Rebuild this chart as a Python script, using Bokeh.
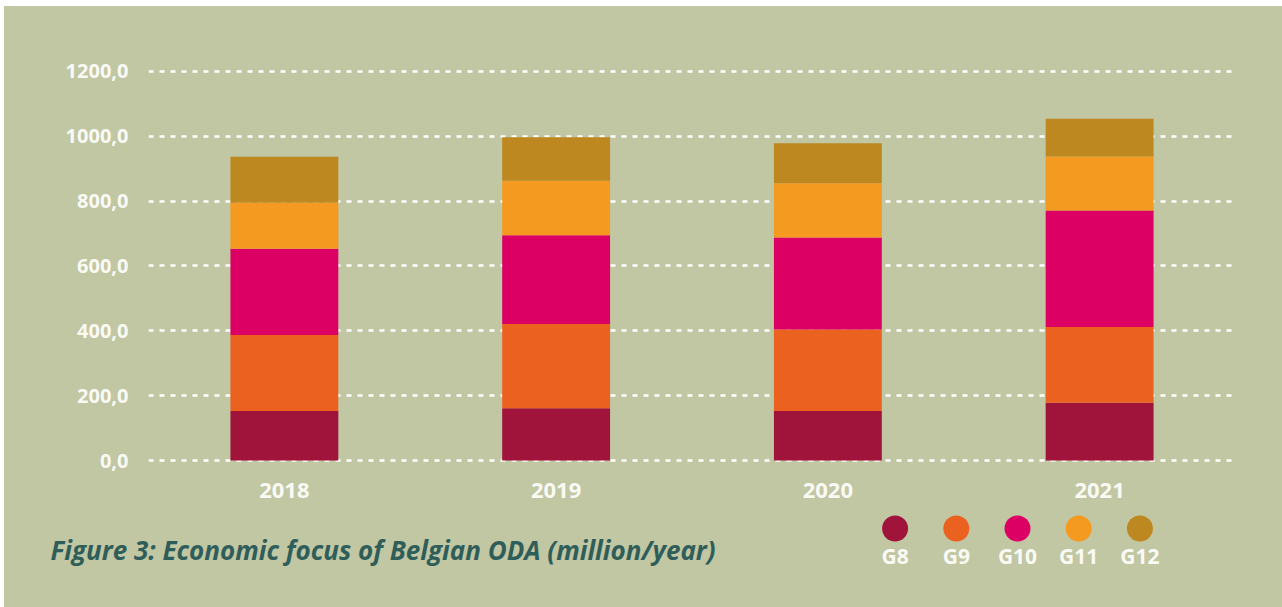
from bokeh.plotting import figure
from bokeh.models import FactorRange, Range1d, FixedTicker, Spacer, ColumnDataSource
from bokeh.layouts import column, row
from bokeh.core.properties import value
from bokeh.embed import file_html
from bokeh.resources import INLINE

# ---- data ----
years = ["2018", "2019", "2020", "2021"]
groups = ["G8", "G9", "G10", "G11", "G12"]
g8 = [153, 161, 153, 178]
g9 = [234, 260, 251, 234]
g10 = [266, 274, 284, 359]
g11 = [142, 168, 167, 167]
g12 = [142, 134, 124, 116]
y_ticks = [0, 200, 400, 600, 800, 1000, 1200]
y_tick_labels = ["0,0", "200,0", "400,0", "600,0", "800,0", "1000,0", "1200,0"]
caption = "Figure 3: Economic focus of Belgian ODA (million/year)"

# ---- styles ----
BG = "#c1c6a3"
colors = ["#a0143c", "#eb6220", "#dc0064", "#f59a20", "#bd8820"]
TXT = "#fafaf5"
TITLE_C = "#2f5e5a"
FONT = "Open Sans"

src = ColumnDataSource(dict(year=years, G8=g8, G9=g9, G10=g10, G11=g11, G12=g12))

p = figure(x_range=FactorRange(*years), y_range=Range1d(-15.4, 1233.9),
           width=1278, height=500, output_backend="svg", toolbar_location=None,
           min_border_left=144, min_border_right=47, min_border_top=54, min_border_bottom=41,
           background_fill_color=None, border_fill_color=BG, outline_line_color=None)
p.x_range.range_padding = 0
p.vbar_stack(groups, x="year", width=0.397, color=colors, line_color=None, source=src)

p.xgrid.grid_line_color = None
p.ygrid.grid_line_color = "white"
p.ygrid.grid_line_width = 2.5
p.ygrid.grid_line_dash = "5 6"
p.ygrid.ticker = FixedTicker(ticks=y_ticks)

p.yaxis.ticker = FixedTicker(ticks=y_ticks)
p.yaxis.major_label_overrides = {t: l for t, l in zip(y_ticks, y_tick_labels)}
for ax in (p.xaxis[0], p.yaxis[0]):
    ax.axis_line_color = None
    ax.major_tick_line_color = None
    ax.minor_tick_line_color = None
    ax.major_label_text_color = TXT
    ax.major_label_text_font = FONT
    ax.major_label_text_font_style = "bold"
p.yaxis.major_label_text_font_size = "20px"
p.xaxis.major_label_text_font_size = "22px"
p.yaxis.major_label_standoff = 14
p.xaxis.major_label_standoff = 11

# caption
cap = figure(width=830, height=101, x_range=Range1d(0, 830), y_range=Range1d(101, 0),
             output_backend="svg", toolbar_location=None, min_border=0,
             x_axis_location=None, y_axis_location=None,
             background_fill_color=None, border_fill_color=BG, outline_line_color=None)
cap.grid.visible = False
cap.text(x=[46], y=[43], text=[caption], text_font=value(FONT), text_font_style="bold italic",
         text_font_size="26px", text_color=TITLE_C, text_align="left", text_baseline="middle")

# legend
leg = figure(width=448, height=101, x_range=FactorRange(*groups), y_range=Range1d(101, 0),
             output_backend="svg", toolbar_location=None,
             min_border_left=30, min_border_right=112, min_border_top=0, min_border_bottom=0,
             x_axis_location=None, y_axis_location=None,
             background_fill_color=None, border_fill_color=BG, outline_line_color=None)
leg.x_range.range_padding = 0
leg.grid.visible = False
lsrc = ColumnDataSource(dict(g=groups, c=colors))
leg.scatter(x="g", y=22, size=26, marker="circle", fill_color="c", line_color=None, source=lsrc)
leg.text(x="g", y=49, text="g", text_font=value(FONT), text_font_style="bold",
         text_font_size="21px", text_color=TXT, text_align="center", text_baseline="middle",
         source=lsrc)

bottom = row(cap, leg, styles={"background-color": BG})
inner = column(p, bottom, styles={"background-color": BG})
layout = column(Spacer(width=1282, height=6),
                row(Spacer(width=4, height=601), inner))

open("out.html", "w").write(file_html(layout, INLINE))
